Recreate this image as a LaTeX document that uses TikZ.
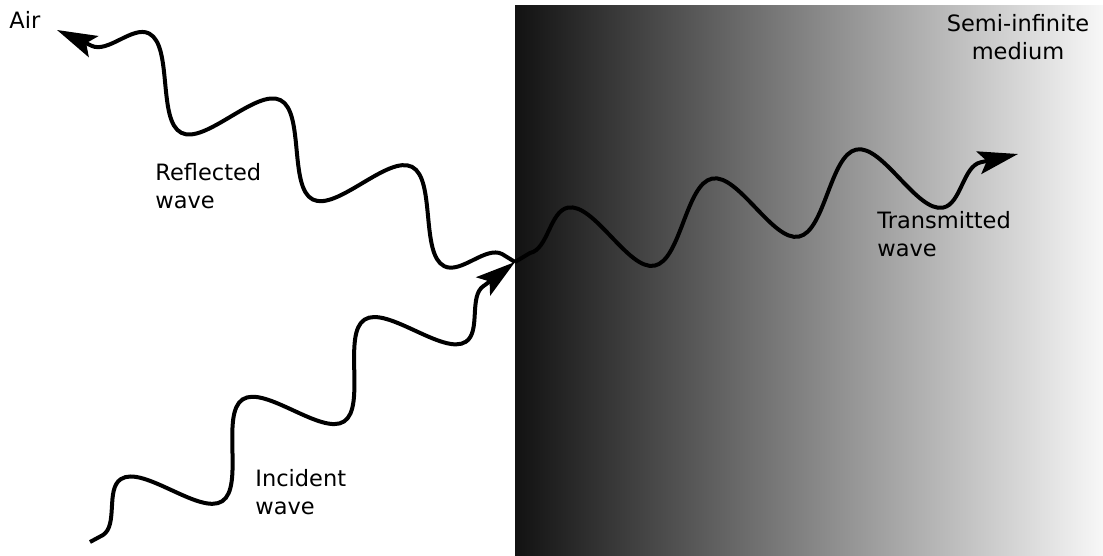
\documentclass[tikz,border=0pt]{standalone}
\usepackage{fontspec}
\setmainfont{DejaVu Sans}
\usetikzlibrary{arrows.meta, decorations.pathmorphing}

\begin{document}
\begin{tikzpicture}[
    x=0.5pt, y=-0.5pt,
    >={Stealth[length=20pt, width=11.5pt, inset=4pt]},
    wave/.style={draw=black, line width=2pt, ->,
      decoration={snake, amplitude=18.5pt}},
    lbl/.style={font=\fontsize{11.25pt}{14pt}\selectfont, align=left,
      inner sep=0pt, anchor=north west}
  ]
  \useasboundingbox (0,0) rectangle (1103,556);

  %% --- Semi-infinite medium ---
  \shade[left color=black!93, right color=black!3] (515,6) rectangle (1103,556);

  %% --- Points ---
  \coordinate (hit) at (515,262);
  \coordinate (inc) at (90,542);
  \coordinate (refl) at (57,30);
  \coordinate (trans) at (1018,154);
  % kinks where the wiggle starts and stops
  \coordinate (ik1) at (103,535);
  \coordinate (ik2) at (485,285);
  \coordinate (rk1) at (502,254);
  \coordinate (rk2) at (90,45);
  \coordinate (tk1) at (530,253);
  \coordinate (tk2) at (982,162);

  %% --- Waves ---
  \draw[wave, decoration={segment length=72.8pt}]
    (inc) -- (ik1) decorate {-- (ik2)} -- (hit);
  \draw[wave, decoration={segment length=73.7pt}]
    (hit) -- (rk1) decorate {-- (rk2)} -- (refl);
  \draw[wave, decoration={segment length=73.6pt}]
    (hit) -- (tk1) decorate {-- (tk2)} -- (trans);

  %% --- Labels ---
  \node[lbl] (air) at (9,11) {Air};
  \node[lbl] (rlabel) at (155,163) {Reflected\\wave};
  \node[lbl] (ilabel) at (255,469) {Incident\\wave};
  \node[lbl] (tlabel) at (877,211) {Transmitted\\wave};
  \node[lbl, align=center, anchor=north] (medium) at (1018,14) {Semi-infinite\\medium};
\end{tikzpicture}
\end{document}
